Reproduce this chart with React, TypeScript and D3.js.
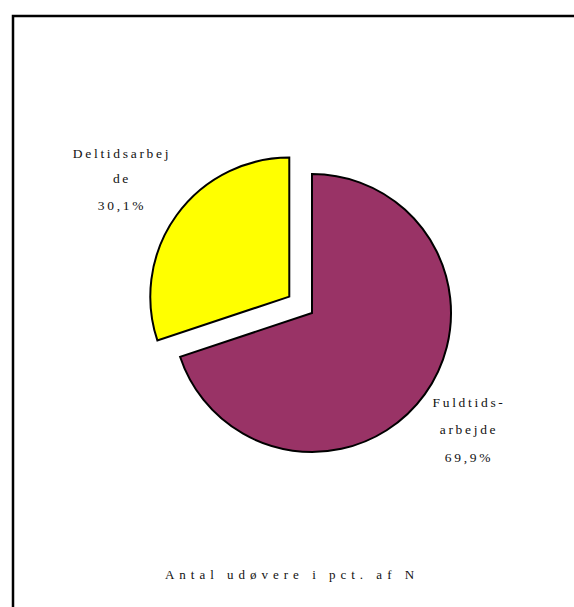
import React from "react";
import * as d3 from "d3";

const categories = ["Fuldtids-arbejde", "Deltidsarbejde"];
const values = [69.9, 30.1];
const colors = ["#993366", "#FFFF00"];
const labelLines = [["Fuldtids-", "arbejde", "69,9%"], ["Deltidsarbej", "de", "30,1%"]];
const title = "Antal udøvere i pct. af N";

export default function App() {
  const W = 574, H = 607;
  const cx = 312, cy = 313, r = 139;
  const pie = d3.pie<number>().sort(null).value((d) => d)(values);
  const arc = d3.arc<d3.PieArcDatum<number>>().innerRadius(0).outerRadius(r);
  const explode = [0, 28];
  const labelPos = [
    { x: 469, ys: [407, 434, 462] },
    { x: 122, ys: [158, 183, 210] },
  ];
  return (
    <svg width={W} height={H} style={{ position: "absolute", left: 0, top: 0 }}>
      <rect x={0} y={0} width={W} height={H} fill="white" />
      <rect x={13} y={16} width={W + 10} height={H + 10} fill="none" stroke="#000" strokeWidth={2.5} />
      {pie.map((p, i) => {
        const mid = (p.startAngle + p.endAngle) / 2;
        const dx = Math.sin(mid) * explode[i];
        const dy = -Math.cos(mid) * explode[i];
        return (
          <path
            key={categories[i]}
            d={arc(p) || ""}
            transform={`translate(${cx + dx},${cy + dy})`}
            fill={colors[i]}
            stroke="#000"
            strokeWidth={2}
            strokeLinejoin="miter"
          />
        );
      })}
      {labelLines.map((lines, i) =>
        lines.map((t, j) => (
          <text
            key={i + "-" + j}
            x={labelPos[i].x}
            y={labelPos[i].ys[j]}
            textAnchor="middle"
            fontFamily="'Liberation Serif', 'DejaVu Serif', serif"
            fontSize={13.5}
            letterSpacing={2.7}
            fill="#111"
          >
            {t}
          </text>
        ))
      )}
      <text
        x={292}
        y={579}
        textAnchor="middle"
        fontFamily="'Liberation Serif', 'DejaVu Serif', serif"
        fontSize={13}
        letterSpacing={5}
        fill="#111"
      >
        {title}
      </text>
    </svg>
  );
}
